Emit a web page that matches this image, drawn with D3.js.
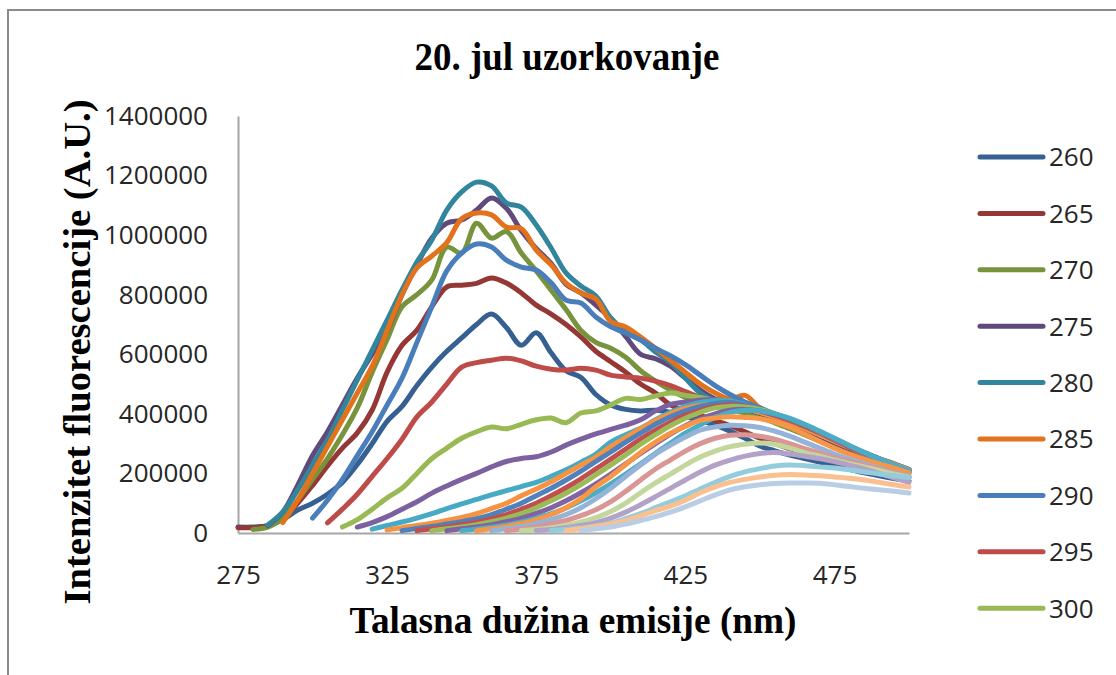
<!DOCTYPE html>
<html>
<head>
<meta charset="utf-8">
<script src="https://cdn.jsdelivr.net/npm/d3@7/dist/d3.min.js"></script>
<style>
  html, body { margin: 0; padding: 0; background: #fff; }
  svg { display: block; }
</style>
</head>
<body>
<svg id="chart" width="1116" height="675"></svg>
<script>
// Emission wavelengths (nm) on the category axis
const emission = [275,280,285,290,295,300,305,310,315,320,325,330,335,340,345,350,355,360,365,370,
  375,380,385,390,395,400,405,410,415,420,425,430,435,440,445,450,455,460,465,470,
  475,480,485,490,495,500];
const xTicks = [275,325,375,425,475];
const yTicks = [0,200000,400000,600000,800000,1000000,1200000,1400000];

// Excitation wavelengths (nm), one spectrum each
const excitation = [260,265,270,275,280,285,290,295,300,305,310,315,320,325,330,335,340,345,350,355,360,365,370,375,380];
// First emission wavelength recorded for each spectrum
const firstEmission = [275,275,280,285,285,290,300,305,310,315,320,325,330,335,340,345,350,355,360,365,370,375,380,385,390];

// Fluorescence intensity (thousands of A.U.), from the first emission wavelength in 5 nm steps
const ex260 = [20,20,25,45,77,100,130,170,230,300,375,425,495,557,610,655,700,735,690,630,672,605,545,522,465,430,415,410,412,405,392,378,362,342,318,292,276,262,250,238,226,214,202,192,183,175];
const ex265 = [18,18,25,50,100,160,225,285,336,413,540,630,681,760,826,832,838,856,839,806,765,735,700,658,610,575,540,500,470,430,410,395,378,360,340,318,300,283,268,253,240,228,215,204,195,186];
const ex270 = [12,20,50,110,180,250,330,420,540,650,760,800,850,960,940,1040,990,1012,940,880,815,750,680,640,620,590,545,510,480,455,440,428,415,402,388,370,350,330,308,287,268,250,232,215,200];
const ex275 = [25,70,160,260,340,430,520,600,680,800,900,990,1040,1051,1084,1125,1090,1015,955,905,835,806,765,720,660,600,585,560,520,480,450,432,418,402,385,365,344,322,300,280,260,242,225,208];
const ex280 = [27,70,144,228,312,413,514,614,715,816,910,984,1084,1145,1178,1165,1108,1094,1034,957,873,829,796,722,675,648,608,574,520,470,445,430,420,405,390,372,352,330,308,287,266,247,228,210];
const ex285 = [35,110,200,290,380,470,560,680,800,890,930,975,1055,1074,1068,1027,1022,950,900,839,806,785,710,692,658,620,580,540,500,470,450,462,420,398,378,356,334,312,290,270,250,232,212];
const ex290 = [50,110,180,260,340,430,520,640,760,880,940,970,960,916,893,883,840,782,772,725,692,671,648,620,595,565,530,495,465,440,420,400,380,358,336,313,292,270,250,232,214];
const ex295 = [34,80,130,190,250,315,390,440,500,557,572,580,587,578,560,550,547,553,547,530,524,520,510,495,475,455,440,430,418,405,390,372,352,330,308,287,266,247,230,212];
const ex300 = [20,45,80,118,150,200,250,285,318,340,356,350,365,380,386,370,403,410,430,452,448,460,470,462,455,445,432,420,405,390,372,352,330,308,287,266,247,229,210];
const ex305 = [20,35,55,80,105,134,158,180,200,222,240,250,256,272,295,315,333,348,362,380,410,432,440,446,448,440,428,412,395,375,354,332,310,288,267,248,230,211];
const ex310 = [13,25,37,50,65,82,98,113,128,142,156,170,190,212,238,265,305,330,352,380,405,425,438,445,443,432,415,397,377,356,334,312,290,269,249,231,212];
const ex315 = [10,18,25,33,42,52,65,82,100,125,148,172,200,228,255,290,320,350,378,400,418,428,432,428,418,405,390,372,352,330,308,287,266,247,229,210];
const ex320 = [8,15,22,30,38,48,62,80,100,125,150,178,208,240,272,305,335,365,390,410,425,435,438,430,415,398,380,360,338,314,290,266,245,225,206];
const ex325 = [8,14,20,28,36,48,62,80,100,125,152,182,215,248,282,315,345,372,395,412,425,430,425,410,395,378,358,336,312,288,265,244,224,205];
const ex330 = [8,14,20,28,38,50,65,85,108,133,162,195,228,262,298,330,360,385,405,420,425,423,415,400,383,362,340,316,292,268,246,225,205];
const ex335 = [8,14,20,28,38,50,66,85,108,135,165,198,232,267,300,332,360,383,400,412,415,410,398,382,362,340,316,292,268,246,226,206];
const ex340 = [8,13,19,27,37,50,65,84,108,135,165,198,232,268,302,335,363,388,405,412,410,400,385,365,342,318,294,270,248,227,208];
const ex345 = [8,14,22,32,45,62,85,115,155,190,230,270,305,335,358,378,386,390,388,384,372,355,332,308,285,265,248,232,218,202];
const ex350 = [8,14,22,32,45,62,85,115,150,190,228,265,295,322,345,356,362,360,354,342,325,305,285,265,248,233,218,204,192];
const ex355 = [8,13,20,30,42,58,78,105,140,178,215,245,275,300,318,328,330,325,315,300,283,268,253,240,228,215,203,190];
const ex360 = [8,12,18,26,37,52,72,100,135,168,198,228,255,275,290,298,302,298,285,270,258,245,233,222,210,198,187];
const ex365 = [8,12,18,25,35,50,70,95,122,150,178,205,228,245,258,267,270,265,258,250,240,228,215,200,185,170];
const ex370 = [8,12,17,24,33,48,65,85,105,125,148,170,190,205,216,225,228,226,222,218,212,205,198,192,186];
const ex375 = [8,14,22,30,42,58,75,90,110,135,155,170,180,188,194,196,195,192,188,184,178,170,162,154];
const ex380 = [8,14,20,30,42,55,70,88,108,128,145,155,162,166,168,168,167,162,156,150,145,140,134];

const intensities = [ex260,ex265,ex270,ex275,ex280,ex285,ex290,ex295,ex300,ex305,ex310,ex315,ex320,
  ex325,ex330,ex335,ex340,ex345,ex350,ex355,ex360,ex365,ex370,ex375,ex380];
const UNIT = 1000;

// Office series palette: darker set, base set, then lighter tints
const colors = ['#376092','#953735','#77933C','#604A7B','#31859C','#E2731C',
  '#4A7EBB','#BE4B48','#98B954','#7D60A0','#46AAC5','#F69240',
  '#4F81BD','#C0504D','#9BBB59','#8064A2','#4BACC6','#F79646',
  '#95B3D7','#D99694','#C3D69B','#B3A2C7','#93CDDD','#FAC090','#B9CDE5'];

const serif = '"Liberation Serif", "Times New Roman", serif';
const sans = '"Open Sans", "Liberation Sans", Arial, sans-serif';

const svg = d3.select('#chart');

// Outer chart frame (runs off the right and bottom edges)
svg.append('path')
  .attr('d', 'M8,675 V10 H1116')
  .attr('fill', 'none')
  .attr('stroke', '#8a8a8a')
  .attr('stroke-width', 2);

const x = d3.scaleLinear().domain([275, 500]).range([238, 909]);
const y = d3.scaleLinear().domain([0, 1400000]).range([533, 116]);

// Title
svg.append('text')
  .attr('x', 567).attr('y', 70)
  .attr('text-anchor', 'middle')
  .attr('font-family', serif)
  .attr('font-weight', 'bold')
  .attr('font-size', 40)
  .attr('textLength', 305)
  .attr('lengthAdjust', 'spacingAndGlyphs')
  .attr('fill', '#000')
  .text('20. jul uzorkovanje');

// Axes
const yAxis = svg.append('g')
  .attr('transform', 'translate(238,0)')
  .call(d3.axisLeft(y).tickValues(yTicks).tickSize(0).tickPadding(30).tickFormat(d3.format('d')));
const xAxis = svg.append('g')
  .attr('transform', 'translate(0,533)')
  .call(d3.axisBottom(x).tickValues(xTicks).tickSize(0).tickPadding(33).tickFormat(d3.format('d')));

[yAxis, xAxis].forEach(g => {
  g.select('.domain').attr('stroke', '#a6a6a6').attr('stroke-width', 2);
  g.selectAll('text')
    .attr('font-family', sans)
    .attr('font-size', 26)
    .attr('fill', '#262626');
});

// Axis titles
svg.append('text')
  .attr('x', 573).attr('y', 633)
  .attr('text-anchor', 'middle')
  .attr('font-family', serif)
  .attr('font-weight', 'bold')
  .attr('font-size', 37)
  .attr('textLength', 447)
  .attr('lengthAdjust', 'spacingAndGlyphs')
  .attr('fill', '#000')
  .text('Talasna dužina emisije (nm)');

svg.append('text')
  .attr('transform', 'translate(90,352) rotate(-90)')
  .attr('text-anchor', 'middle')
  .attr('font-family', serif)
  .attr('font-weight', 'bold')
  .attr('font-size', 38)
  .attr('textLength', 505)
  .attr('lengthAdjust', 'spacingAndGlyphs')
  .attr('fill', '#000')
  .text('Intenzitet fluorescencije (A.U.)');

// Spectra
const line = d3.line()
  .x(d => x(d.em))
  .y(d => y(d.v * UNIT))
  .curve(d3.curveCatmullRom.alpha(0.5));

const seriesData = excitation.map((ex, i) => {
  const offset = emission.indexOf(firstEmission[i]);
  return {
    ex,
    color: colors[i],
    points: intensities[i].map((v, j) => ({ em: emission[offset + j], v }))
  };
});

svg.append('g')
  .selectAll('path')
  .data(seriesData)
  .join('path')
  .attr('d', d => line(d.points))
  .attr('fill', 'none')
  .attr('stroke', d => d.color)
  .attr('stroke-width', 5)
  .attr('stroke-linejoin', 'round')
  .attr('stroke-linecap', 'round');

// Legend (only the entries that fit in the frame)
const legendItems = seriesData.slice(0, 9);
const legend = svg.append('g')
  .selectAll('g')
  .data(legendItems)
  .join('g')
  .attr('transform', (d, i) => `translate(980,${157 + i * 56.4})`);
legend.append('line')
  .attr('x1', 0).attr('x2', 63)
  .attr('stroke', d => d.color)
  .attr('stroke-width', 5)
  .attr('stroke-linecap', 'round');
legend.append('text')
  .attr('x', 69).attr('dy', '0.36em')
  .attr('font-family', sans)
  .attr('font-size', 26)
  .attr('fill', '#262626')
  .text(d => d.ex);
</script>
</body>
</html>
